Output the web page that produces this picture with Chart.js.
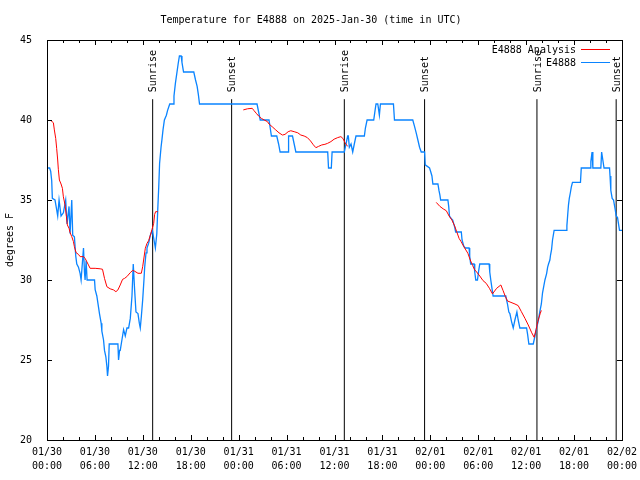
<!DOCTYPE html>
<html>
<head>
<meta charset="utf-8">
<script src="https://cdn.jsdelivr.net/npm/chart.js@4"></script>
<style>
  html, body { margin: 0; padding: 0; background: #fff; }
  #chart { display: block; }
</style>
</head>
<body>
<canvas id="chart" width="640" height="480"></canvas>
<script>
// hours since 2025-01-30 00:00 UTC
const xTickLabels = [
  ['01/30', '00:00'], ['01/30', '06:00'], ['01/30', '12:00'], ['01/30', '18:00'],
  ['01/31', '00:00'], ['01/31', '06:00'], ['01/31', '12:00'], ['01/31', '18:00'],
  ['02/01', '00:00'], ['02/01', '06:00'], ['02/01', '12:00'], ['02/01', '18:00'],
  ['02/02', '00:00']
];

// E4888 observations
const obsHours = [0,0.33,0.46,0.59,0.67,1.0,1.21,1.34,1.51,1.76,2.05,2.34,2.51,2.76,2.89,3.1,3.22,3.43,3.6,3.73,3.94,4.15,4.27,4.57,4.69,4.77,4.9,5.02,5.95,6.03,6.24,6.45,6.57,6.78,6.87,7.08,7.2,7.37,7.5,7.58,7.7,7.79,8.88,8.96,9.09,9.17,9.38,9.59,9.8,10.01,10.22,10.43,10.64,10.8,10.97,11.14,11.39,11.56,11.68,11.81,11.98,12.14,12.23,12.4,12.52,12.73,12.94,13.19,13.4,13.57,13.75,13.86,13.99,14.1,14.28,14.4,14.53,14.7,14.95,15.1,15.37,15.79,15.9,16.08,16.25,16.42,16.58,16.8,16.9,17.1,18.38,18.6,18.8,18.95,19.1,26.3,26.5,26.7,27.8,27.95,28.1,28.77,29.0,29.19,30.19,30.25,30.74,30.95,31.16,35.15,35.25,35.6,35.7,37.23,37.44,37.65,37.73,37.86,38.07,38.28,38.48,38.69,39.74,39.87,40.08,40.91,41.08,41.2,41.42,41.62,41.75,43.38,43.51,45.8,46.02,46.23,46.44,46.65,46.86,47.28,47.36,47.9,48.03,48.2,48.32,48.95,49.08,49.2,49.29,50.2,50.3,50.4,50.6,50.8,51.05,51.17,51.88,51.97,52.2,52.39,52.85,52.93,53.05,53.48,53.56,53.69,53.9,54.06,54.19,55.36,55.44,55.57,55.74,55.86,57.45,57.66,57.83,57.96,58.17,58.38,58.59,58.84,59.0,59.21,60.05,60.18,60.34,60.89,61.1,61.3,61.5,61.7,61.9,62.05,62.2,62.35,62.56,62.69,62.8,62.97,63.05,63.18,63.3,63.5,65.0,65.1,65.2,65.3,65.4,65.55,65.65,65.8,66.8,66.9,68.0,68.1,68.25,68.35,69.35,69.45,69.6,69.75,70.44,70.5,70.6,70.77,70.94,71.15,71.27,71.44,71.69,72.0];
const obsTemps = [37.0,37.0,36.8,36.2,35.1,35.0,34.4,34.0,35.0,34.0,34.2,35.0,33.5,34.6,32.9,35.0,32.8,32.7,31.5,31.0,30.8,30.4,30.0,32.0,30.5,30.0,31.2,30.0,30.0,29.4,29.0,28.3,27.9,27.3,26.8,26.25,25.6,25.2,24.6,24.0,24.6,26.0,26.0,25.0,25.6,25.6,26.25,26.9,26.5,27.0,27.0,27.6,29.0,31.0,29.4,28.0,27.9,27.3,27.0,27.7,28.75,30.0,30.8,31.7,32.0,32.3,32.8,33.1,32.5,32.0,32.9,34.3,35.8,37.3,38.3,38.8,39.4,40.0,40.3,40.6,41.0,41.0,41.5,42.3,42.9,43.5,44.0,44.0,43.6,43.0,43.0,42.5,42.1,41.6,41.0,41.0,40.5,40.0,40.0,39.5,39.0,39.0,38.5,38.0,38.0,39.0,39.0,38.5,38.0,38.0,37.0,37.0,38.0,38.0,38.5,39.0,39.0,38.3,38.5,38.0,38.5,39.0,39.0,39.5,40.0,40.0,40.6,41.0,41.0,40.3,41.0,41.0,40.0,40.0,39.6,39.2,38.75,38.3,38.0,38.0,37.2,37.0,36.8,36.5,36.0,36.0,35.6,35.3,35.0,35.0,34.6,34.0,33.85,33.75,33.3,33.0,33.0,32.5,32.1,32.0,32.0,31.5,31.0,31.0,30.5,30.0,30.0,30.6,31.0,31.0,30.5,30.0,29.4,29.0,29.0,28.5,28.0,27.9,27.4,27.0,27.5,28.0,27.5,27.0,27.0,26.6,26.0,26.0,26.5,27.0,27.4,28.0,28.5,29.2,29.6,30.0,30.4,30.8,31.0,31.25,31.56,31.9,32.5,33.1,33.1,33.4,34.06,34.7,35.1,35.5,35.8,36.1,36.1,37.0,37.0,37.4,38.0,37.0,37.0,38.0,37.5,37.0,37.0,36.5,35.6,35.1,35.0,34.4,34.0,33.9,33.1,33.1];

// E4888 Analysis (null = no analysis)
const anaHours = [0.5,0.8,0.92,1.09,1.21,1.34,1.42,1.55,1.76,1.93,2.05,2.26,2.43,2.55,2.76,2.89,3.1,3.31,3.43,3.64,3.94,4.15,4.57,4.77,4.98,5.19,5.4,6.03,6.66,6.95,7.2,7.5,7.91,8.33,8.63,8.88,9.17,9.46,9.71,10.0,10.43,10.72,10.97,11.39,11.81,11.98,12.1,12.31,12.52,12.73,12.94,13.15,13.36,13.48,13.6,13.86,
  19,
  24.58,25.1,25.7,25.9,26.2,26.5,26.85,27.2,27.6,27.8,28.2,28.64,29.05,29.48,29.8,30.2,30.53,30.95,31.4,31.78,32.2,32.6,33.0,33.35,33.67,34.0,34.4,34.8,35.13,35.55,35.95,36.4,36.8,37.05,37.3,37.5,37.65,
  43,
  48.74,49.2,49.6,50.0,50.35,50.7,51.05,51.3,51.6,51.85,52.2,52.7,53.0,53.3,53.56,53.8,54.19,54.6,55.0,55.4,55.78,56.3,56.83,57.1,57.4,57.66,58.1,58.6,59.0,59.4,59.85,60.26,60.7,61.0,61.25,61.45,61.77,61.9];
const anaTemps = [39.96,39.83,39.38,38.85,38.23,37.5,36.92,36.25,36.0,35.73,35.2,34.69,33.96,33.44,33.23,32.96,32.71,32.4,32.08,31.71,31.6,31.46,31.46,31.35,31.15,30.94,30.73,30.73,30.7,30.67,30.1,29.58,29.45,29.38,29.27,29.38,29.69,30.04,30.1,30.21,30.46,30.6,30.55,30.42,30.42,30.83,31.25,31.98,32.29,32.46,32.8,33.17,33.54,34.1,34.27,34.27,
  null,
  40.63,40.7,40.73,40.6,40.42,40.25,40.1,40.0,39.9,39.75,39.58,39.38,39.2,39.06,39.1,39.27,39.33,39.27,39.2,39.06,39.0,38.9,38.69,38.45,38.27,38.35,38.44,38.48,38.54,38.65,38.8,38.9,38.96,38.85,38.6,38.45,38.35,
  null,
  34.85,34.6,34.45,34.33,34.0,33.75,33.37,33.02,32.6,32.4,32.08,31.67,31.25,30.9,30.63,30.5,30.25,29.96,29.79,29.48,29.13,29.48,29.69,29.35,28.96,28.69,28.6,28.5,28.4,28.02,27.6,27.19,26.7,26.42,26.9,27.4,27.92,28.1];

// sunrise / sunset markers
const eventHours = [13.23, 23.12, 37.23, 47.28, 61.35, 71.27];
const eventLabels = ['Sunrise', 'Sunset', 'Sunrise', 'Sunset', 'Sunrise', 'Sunset'];
const eventTop = 41.3;

const FONT = 'DejaVu Sans Mono';
const RED = '#ff0000';
const BLUE = '#0a84ff';

const zip = (xs, ys) => xs.map((x, i) => ({ x: x, y: ys[i] }));

const eventPoints = [];
eventHours.forEach(h => {
  eventPoints.push({ x: h, y: 20 }, { x: h, y: eventTop }, { x: h, y: null });
});

const gnuplotLook = {
  id: 'gnuplotLook',
  afterDatasetsDraw(chart) {
    const { ctx, chartArea: a, scales: { x, y } } = chart;
    ctx.save();
    ctx.strokeStyle = '#000';
    ctx.lineWidth = 1;
    ctx.beginPath();
    // ticks on all four sides, pointing inward
    for (let h = 0; h <= 72; h += 2) {
      const px = Math.round(x.getPixelForValue(h)) + 0.5;
      const len = h % 6 === 0 ? 5 : 3;
      ctx.moveTo(px, a.bottom); ctx.lineTo(px, a.bottom - len);
      ctx.moveTo(px, a.top); ctx.lineTo(px, a.top + len);
    }
    for (let t = 20; t <= 45; t += 5) {
      const py = Math.round(y.getPixelForValue(t)) + 0.5;
      ctx.moveTo(a.left, py); ctx.lineTo(a.left + 5, py);
      ctx.moveTo(a.right, py); ctx.lineTo(a.right - 5, py);
    }
    ctx.stroke();
    ctx.strokeRect(Math.round(a.left) + 0.5, Math.round(a.top) + 0.5,
                   Math.round(a.right - a.left), Math.round(a.bottom - a.top));

    // sunrise / sunset labels, reading upward from just above each line
    ctx.fillStyle = '#000';
    ctx.font = '10px "' + FONT + '"';
    ctx.textBaseline = 'middle';
    ctx.textAlign = 'left';
    eventHours.forEach((h, i) => {
      const px = x.getPixelForValue(h);
      const py = y.getPixelForValue(eventTop) - 7;
      ctx.save();
      ctx.translate(px + 1, py);
      ctx.rotate(-Math.PI / 2);
      ctx.fillText(eventLabels[i], 0, 0);
      ctx.restore();
    });

    // key, top right
    ctx.textAlign = 'right';
    const items = [['E4888 Analysis', RED], ['E4888', BLUE]];
    items.forEach((it, i) => {
      const ty = a.top + 10 + i * 13;
      ctx.fillStyle = '#000';
      ctx.fillText(it[0], a.right - 46, ty);
      ctx.strokeStyle = it[1];
      ctx.beginPath();
      ctx.moveTo(a.right - 41, Math.round(ty) - 0.5);
      ctx.lineTo(a.right - 12, Math.round(ty) - 0.5);
      ctx.stroke();
    });
    ctx.restore();
  }
};

new Chart(document.getElementById('chart'), {
  type: 'line',
  data: {
    datasets: [
      {
        label: 'E4888 Analysis',
        data: zip(anaHours, anaTemps),
        borderColor: RED,
        borderWidth: 1,
        pointRadius: 0,
        spanGaps: false,
        tension: 0
      },
      {
        label: 'E4888',
        data: zip(obsHours, obsTemps),
        borderColor: BLUE,
        borderWidth: 1.3,
        pointRadius: 0,
        tension: 0
      },
      {
        label: 'events',
        data: eventPoints,
        borderColor: '#000',
        borderWidth: 1,
        pointRadius: 0,
        spanGaps: false
      }
    ]
  },
  options: {
    responsive: false,
    animation: false,
    devicePixelRatio: 1,
    layout: { padding: { left: 0, right: 18, top: 0, bottom: 0 } },
    plugins: {
      legend: { display: false },
      tooltip: { enabled: false },
      title: {
        display: true,
        text: 'Temperature for E4888 on 2025-Jan-30 (time in UTC)',
        color: '#000',
        font: { family: FONT, size: 10, weight: 'normal', lineHeight: 1.2 },
        padding: { top: 14, bottom: 14 }
      }
    },
    scales: {
      x: {
        type: 'linear',
        min: 0,
        max: 72,
        grid: { display: false },
        border: { display: false },
        afterFit(scale) { scale.height = 40; },
        ticks: {
          stepSize: 6,
          autoSkip: false,
          maxRotation: 0,
          padding: -3,
          color: '#000',
          font: { family: FONT, size: 10, lineHeight: 1.4 },
          callback: v => xTickLabels[Math.round(v / 6)]
        }
      },
      y: {
        min: 20,
        max: 45,
        grid: { display: false },
        border: { display: false },
        afterFit(scale) { scale.width = 47; },
        ticks: {
          stepSize: 5,
          padding: 7,
          color: '#000',
          font: { family: FONT, size: 10 }
        },
        title: {
          display: true,
          text: 'degrees F',
          color: '#000',
          font: { family: FONT, size: 10 }
        }
      }
    }
  },
  plugins: [gnuplotLook]
});
</script>
</body>
</html>
